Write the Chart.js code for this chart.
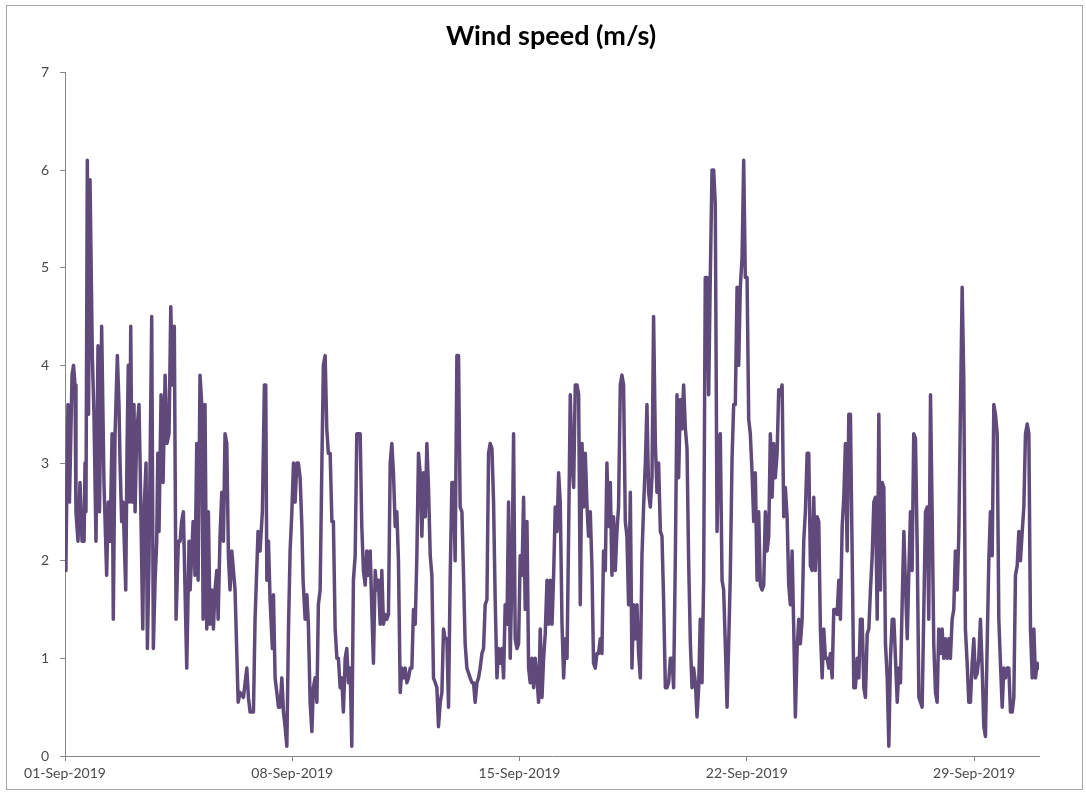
<!DOCTYPE html>
<html>
<head>
<meta charset="utf-8">
<title>Wind speed (m/s)</title>
<script src="https://cdn.jsdelivr.net/npm/chart.js@4.4.1/dist/chart.umd.min.js"></script>
<style>
  body { margin: 0; background: #fff; }
  #windChart { display: block; }
</style>
</head>
<body>
<canvas id="windChart" width="1086" height="793"></canvas>
<script>
// hours since 01-Sep-2019 00:00
const hours = [
  0, 0.7, 2.2, 3.3, 5.2, 6.3, 7.4, 8.1, 9.6, 11.1, 12.6, 14.1, 14.8, 15.5, 16.5, 17.4, 18.5, 19.2, 20.2, 21.4, 22.9,
  24.4, 25.5, 27.1, 28.8, 30.8, 32, 33.3, 34.8, 35.7, 37, 38.7, 39.9, 40.7, 41.9, 42.9, 44.9, 45.9, 46.8, 47.7,
  48.6, 49.6, 51, 51.8, 53, 54.7, 55.5, 57.5, 58.4, 59.9, 60.9, 62.1, 64.1, 65.3, 66.6, 67.8, 68.6, 69.5, 71,
  72.5, 74, 75.4, 76.9, 78.2, 79.5, 80.8, 82.1, 83.8, 85.1, 86.2, 87.5, 90, 91.7,
  92.5, 94.7, 96.1, 97.4, 98.4, 99.8, 101.1, 102.1, 103.5, 104.8, 106, 107.2, 108.5, 109.7, 110.9,
  112.2, 113.2, 114.6, 115.9, 117.1, 118.3, 119.6, 120.8, 122, 123.3, 125.7, 128, 129.4, 131.9, 134.4, 135.6, 136.8, 139.3,
  140.5, 142.7, 144.2, 145.9, 147.4, 148.4, 149.2, 150.4, 151.6, 153.3, 154.1, 155.3, 156.6, 157.8, 159, 160.3,
  161.5, 162.7, 164, 165.2, 166.4, 167.7,
  168.9, 170.1, 171.4, 172.5, 173.8, 175.1, 176, 177.5, 178.8, 179.9, 181.2, 182.5, 183.6, 184.9, 186.2,
  187.3, 188.6, 189.9, 191, 192.3, 193.5, 194.7, 196, 197.3, 198.4, 199.7, 201, 202.1, 203.4, 204.6,
  205.8, 207.1, 208.3, 209.5, 210.8, 212, 213.2, 214.5, 215.7, 216.9, 218.2, 219.4, 220.6, 221.9, 223.1,
  224.3, 225.6, 226.8, 228, 229.3, 230.5, 231.7, 233, 234.2, 235.4, 236.7, 237.9, 239.1,
  240.4, 241.6, 242.8, 244.1, 245.3, 246.5, 247.8, 249, 250.2, 251.5, 252.7, 253.9, 255.2, 256.4, 257.6,
  258.9, 260.1, 261.3, 262.6, 263.8, 265, 266.3, 267.5, 268.7, 270, 271.2, 272.4, 273.7, 274.9, 276.1,
  277.4, 278.6, 279.8, 281, 282.3, 283.5, 284.7, 286, 287.2, 288.4, 289.7, 290.9, 292.1, 293.4, 294.6,
  295.8, 297.1, 298.3, 299.5, 300.8, 302, 303.2, 304.5, 305.7, 306.9, 308.2, 309.4, 310.6, 311.9, 313.1,
  314.3, 315.6, 316.8, 318, 319.3, 320.5, 321.7, 323, 324.2, 325.4, 326.7, 327.9, 329.1, 330.4, 331.6,
  332.8, 334.1, 335.3,
  336.5, 337.8, 339, 340.2, 341.5, 342.7, 343.9, 345.2, 346.4, 347.6, 348.9, 350.1, 351.3, 352.6, 353.8,
  355, 356.3, 357.5, 358.7, 360, 361.2, 362.4, 363.7, 364.9, 366.1, 367.4, 368.6, 369.8, 371.1, 372.3,
  373.5, 374.8, 376, 377.2, 378.5, 379.7, 380.9, 382.2, 383.4, 384.6, 385.9, 387, 388.3, 389.5, 390.7,
  392, 393.2, 394.4, 395.7, 396.9, 398.1, 399.4, 400.6, 401.8, 403.1, 404.3, 405.5, 406.8, 408, 409.2,
  410.5, 411.7, 412.9, 414.2, 415.4, 416.6, 417.9, 419.1, 420.3, 421.6, 422.8, 424, 425.3, 426.5, 427.7,
  429, 430.2, 431.4, 432.7, 433.9, 435.1, 436.4, 437.6, 438.8, 440.1, 441.3, 442.5, 443.8, 445, 446.2,
  447.5, 448.7, 449.9, 451.2, 452.4, 453.6, 454.9, 456.1, 457.3, 458.6, 459.8, 461, 462.3,
  463.5, 464.7, 466, 467.2, 468.4, 469.6, 470.9, 472.1, 473.3, 474.6, 475.8, 477, 478.3, 479.5, 480.7,
  482, 483.2, 484.4, 485.7, 486.9, 488.1, 489.4, 490.6, 491.8, 493.1, 494.3, 495.5, 496.8, 498, 499.2,
  500.5, 501.7, 502.9, 504.2, 505.4, 506.6, 507.9, 509.1, 510.3, 511.6, 512.8, 514, 515.3, 516.5, 517.7,
  519, 520.2, 521.4, 522.7, 523.9, 525.1, 526.4, 527.6, 528.8, 530.1, 531.3, 532.5, 533.8, 535, 536.2,
  537.5, 538.7, 539.9, 541.2, 542.4, 543.6, 544.9, 546.1, 547.3, 548.6, 549.8,
  551, 552.3, 553.5, 554.7, 556, 557.2, 558.4, 559.7, 560.9, 562.1, 563.4, 564.6, 565.8, 567.1, 568.3,
  569.5, 570.8, 572, 573.2, 574.5, 575.7, 576.9, 578.2, 579.4, 580.6, 581.9, 583.1, 584.3, 585.6, 586.8,
  588, 589.3, 590.5, 591.7, 593, 594.2, 595.4, 596.7, 597.9, 599.1, 600.4, 601.6, 602.8, 604.1, 605.3,
  606.5, 607.8, 609, 610.2, 611.5, 612.7, 613.9, 615.2, 616.4, 617.6, 618.9, 620.1, 621.3, 622.6, 623.8,
  625, 626.2, 627.4, 628.7, 630, 631.2, 632.4, 633.6, 634.8, 636.1, 637.4, 638.5, 639.8, 641, 642.2, 643.5,
  644.7, 645.9, 647.2, 648.4, 649.6, 650.8, 652.1, 653.3, 654.5, 655.8, 657, 658.2, 659.5, 660.7, 661.9,
  663.2, 664.4, 665.6, 666.9, 668.1, 669.3, 670.6, 671.8, 673, 674.3, 675.5, 676.7, 678, 679.2, 680.4,
  681.7, 682.9, 684.1, 685.4, 686.6, 687.8, 689.1, 690.3, 691.5, 692.8, 694, 695.2, 696.5, 697.7, 698.9,
  700.2, 701.4, 702.6, 703.9, 705.1, 706.3, 707.6, 708.8, 710, 711.3, 712.5, 713.7, 715, 716.2, 717.4,
  718.7, 720
];

// wind speed, m/s
const speeds = [
  1.9, 2.0, 3.6, 2.6, 3.9, 4.0, 3.8, 2.5, 2.2, 2.8, 2.2, 2.2, 3.0, 2.5, 6.1, 3.5, 5.9, 5.9, 4.1, 3.5, 2.2,
  4.2, 2.5, 4.4, 2.8, 1.85, 2.6, 2.2, 3.3, 1.4, 3.3, 4.1, 3.6, 3.0, 2.4, 2.6, 1.7, 3.2, 4.0, 2.6,
  4.4, 2.6, 3.6, 2.5, 3.3, 3.6, 3.0, 1.3, 2.5, 3.0, 1.1, 2.0, 4.5, 1.1, 1.8, 2.2, 3.1, 2.3, 3.7,
  2.8, 3.9, 3.2, 3.3, 4.6, 3.8, 4.4, 1.4, 2.2, 2.2, 2.4, 2.5, 0.9, 2.2,
  1.7, 2.4, 1.85, 3.2, 1.8, 3.9, 3.6, 1.4, 3.6, 1.3, 2.5, 1.35, 1.7, 1.3, 1.7,
  1.9, 1.4, 2.25, 2.7, 2.2, 3.3, 3.2, 2.05, 1.7, 2.1, 1.7, 0.55, 0.65, 0.6, 0.9, 0.6, 0.45, 0.45,
  1.4, 2.3, 2.1, 2.5, 3.8, 3.8, 1.8, 2.2, 1.6, 1.1, 1.65, 0.8, 0.65, 0.5, 0.5, 0.8,
  0.45, 0.3, 0.1, 1.3, 2.1, 2.5,
  3.0, 2.6, 3.0, 3.0, 2.85, 2.35, 1.8, 1.4, 1.65, 1.35, 0.55, 0.25, 0.7, 0.8, 0.55,
  1.55, 1.7, 3.0, 4.0, 4.1, 3.35, 3.1, 3.1, 2.4, 2.4, 1.3, 1.0, 1.0, 0.7, 0.8,
  0.45, 1.0, 1.1, 0.75, 0.9, 0.1, 1.8, 2.05, 3.3, 3.3, 3.3, 2.35, 1.9, 1.75, 2.1,
  1.85, 2.1, 1.5, 0.95, 1.9, 1.7, 1.8, 1.35, 1.9, 1.35, 1.45, 1.4, 1.45,
  3.0, 3.2, 2.9, 2.35, 2.5, 2.0, 0.65, 0.9, 0.8, 0.9, 0.75, 0.8, 0.9, 0.9, 1.5,
  1.35, 2.05, 3.1, 2.9, 2.25, 2.9, 2.45, 3.2, 2.75, 2.05, 1.85, 0.8, 0.75, 0.7, 0.3,
  0.55, 0.65, 1.3, 1.2, 1.2, 0.5, 1.8, 2.8, 2.8, 2.0, 4.1, 4.1, 2.55, 2.5, 1.85,
  1.15, 0.9, 0.85, 0.8, 0.75, 0.75, 0.55, 0.75, 0.8, 0.9, 1.05, 1.1, 1.55, 1.6, 3.1,
  3.2, 3.15, 2.6, 1.6, 0.8, 1.1, 0.95, 1.1, 0.8, 1.55, 1.35, 2.6, 1.0, 1.85, 3.3,
  1.2, 1.1, 1.15,
  2.05, 1.85, 2.65, 1.5, 2.4, 0.9, 0.75, 1.0, 0.7, 1.0, 0.8, 0.55, 1.3, 0.6, 1.0,
  1.25, 1.8, 1.35, 1.8, 1.35, 1.85, 2.55, 2.3, 2.9, 2.6, 1.35, 0.8, 1.2, 1.0, 2.3,
  3.7, 3.0, 2.75, 3.8, 3.8, 3.7, 1.55, 3.2, 2.55, 3.1, 2.55, 2.25, 2.5, 1.95, 0.95,
  0.9, 1.05, 1.05, 1.2, 1.05, 2.1, 1.9, 3.0, 2.35, 2.8, 1.85, 2.45, 1.9, 2.3, 2.55,
  3.8, 3.9, 3.8, 2.4, 2.25, 1.55, 2.7, 0.9, 1.55, 1.2, 1.55, 1.05, 0.8, 2.05, 2.55,
  3.0, 3.6, 2.7, 2.55, 2.85, 4.5, 3.2, 2.7, 3.0, 2.3, 2.25, 1.6, 0.7, 0.7, 0.75,
  1.0, 1.0, 0.7, 2.05, 3.7, 2.85, 3.65, 3.35, 3.8, 3.35, 3.15, 2.0, 1.15,
  0.7, 0.9, 0.75, 0.4, 0.7, 1.4, 0.75, 1.8, 4.9, 4.9, 3.7, 4.9, 6.0, 6.0, 5.65,
  2.3, 3.2, 3.3, 1.8, 1.7, 1.15, 0.5, 1.15, 1.85, 3.05, 3.6, 3.6, 4.8, 4.0, 4.8,
  5.1, 6.1, 4.9, 4.9, 3.45, 3.3, 2.9, 2.4, 2.9, 1.8, 2.5, 1.75, 1.7, 1.75, 2.5,
  2.1, 2.25, 3.3, 2.65, 3.2, 2.85, 3.1, 3.75, 3.7, 3.8, 2.45, 2.75, 2.45, 1.75, 1.55,
  2.1, 1.3, 0.4, 1.1, 1.4, 1.15, 1.4, 2.2, 2.5, 3.1, 3.1,
  1.95, 1.9, 2.65, 1.9, 2.45, 2.4, 1.3, 0.8, 1.3, 1.0, 1.0, 0.9, 1.05, 0.8, 1.5,
  1.5, 1.45, 1.8, 1.4, 2.35, 2.65, 3.2, 2.1, 3.5, 3.5, 2.05, 0.7, 0.7, 1.0, 0.8,
  1.4, 1.4, 0.7, 0.6, 1.25, 1.3, 1.7, 2.05, 2.6, 2.65, 1.4, 3.5, 1.7, 2.8, 2.75,
  1.15, 0.8, 0.1, 1.0, 1.4, 1.4, 1.0, 0.55, 0.9, 0.75, 1.6, 2.3, 1.75, 1.2, 1.9,
  2.5, 1.9, 3.3, 3.25, 2.1, 0.6, 0.55, 0.5, 1.45, 2.5, 2.55, 1.4, 3.7, 2.5, 1.15, 0.65,
  0.55, 1.3, 1.05, 1.3, 1.0, 1.2, 1.0, 1.2, 1.0, 1.4, 1.5, 2.1, 1.7, 2.25, 3.5,
  4.8, 3.85, 1.3, 0.95, 0.55, 0.55, 0.95, 1.2, 0.8, 0.85, 1.0, 1.4, 0.9, 0.3, 0.2,
  1.15, 2.0, 2.5, 2.05, 3.6, 3.5, 3.3, 1.4, 0.95, 0.5, 0.9, 0.8, 0.9, 0.9, 0.45,
  0.45, 0.6, 1.85, 1.95, 2.3, 2.0, 2.3, 2.55, 3.3, 3.4, 3.3, 1.3, 0.8, 1.3, 0.8,
  0.95, 0.9
];

const tickHours = [0, 168, 336, 504, 672];
const tickLabels = ['01-Sep-2019', '08-Sep-2019', '15-Sep-2019', '22-Sep-2019', '29-Sep-2019'];

const axisGrey = '#868686';
const labelGrey = '#4a4a4a';
const fontFamily = "Lato, 'Open Sans', 'Liberation Sans', sans-serif";

const chartFrame = {
  id: 'chartFrame',
  beforeDraw(chart) {
    const ctx = chart.ctx;
    ctx.save();
    ctx.fillStyle = '#ffffff';
    ctx.fillRect(0, 0, chart.width, chart.height);
    ctx.strokeStyle = '#a6a6a6';
    ctx.lineWidth = 1;
    ctx.strokeRect(6.5, 5.5, chart.width - 10, chart.height - 9);
    ctx.restore();
  }
};

new Chart(document.getElementById('windChart'), {
  type: 'line',
  data: {
    datasets: [{
      label: 'Wind speed (m/s)',
      data: hours.map((h, i) => ({ x: h, y: speeds[i] })),
      borderColor: '#604a7b',
      borderWidth: 3.5,
      borderJoinStyle: 'round',
      borderCapStyle: 'round',
      pointRadius: 0,
      tension: 0,
      fill: false
    }]
  },
  options: {
    responsive: false,
    animation: false,
    devicePixelRatio: 1,
    layout: { padding: { left: 22, right: 6, top: 20, bottom: 4 } },
    plugins: {
      legend: { display: false },
      tooltip: { enabled: false },
      title: {
        display: true,
        text: 'Wind speed (m/s)',
        color: '#000000',
        font: { family: fontFamily, size: 27, weight: 'bold' },
        padding: { top: 0, bottom: 20 }
      }
    },
    scales: {
      x: {
        type: 'linear',
        min: 0,
        max: 720,
        afterBuildTicks: scale => {
          scale.ticks = tickHours.map(v => ({ value: v }));
        },
        afterFit: scale => { scale.height = 33; },
        ticks: {
          autoSkip: false,
          maxRotation: 0,
          padding: 4,
          color: labelGrey,
          font: { family: fontFamily, size: 14 },
          callback: (value, index) => tickLabels[index]
        },
        grid: { drawOnChartArea: false, drawTicks: true, tickLength: 5, color: axisGrey },
        border: { color: axisGrey, width: 1 }
      },
      y: {
        min: 0,
        max: 7,
        afterFit: scale => { scale.width = 43; },
        ticks: {
          stepSize: 1,
          padding: 11,
          color: labelGrey,
          font: { family: fontFamily, size: 14 }
        },
        grid: { drawOnChartArea: false, drawTicks: true, tickLength: 5, color: axisGrey },
        border: { color: axisGrey, width: 1 }
      },
      yRight: {
        position: 'right',
        min: 0,
        max: 7,
        afterFit: scale => { scale.width = 41; },
        ticks: { display: false },
        grid: { display: false, drawTicks: false },
        border: { display: false }
      }
    }
  },
  plugins: [chartFrame]
});
</script>
</body>
</html>
